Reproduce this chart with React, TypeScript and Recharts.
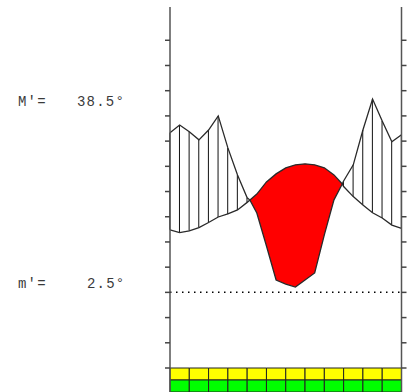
import React from 'react';
import {
    ComposedChart, Line, Area, Bar, XAxis, YAxis, ReferenceLine, ReferenceArea,
} from 'recharts';

// half-month steps across the year (0 = start of Jan, 24 = end of Dec),
// with the two points where the curves cross
const steps = [0, 1, 2, 3, 4, 5, 6, 7, 8, 8.29, 9, 10, 11, 12, 13, 14, 15, 16, 17, 17.86, 18, 19, 20, 21, 22, 23, 24];

// mean temperature, °C
const temperature = [12.4, 11.85, 12.2, 12.85, 13.85, 14.95, 15.55, 16.35, 17.85, 18.3, 19.5, 21.9, 23.5, 24.7, 25.3, 25.5, 25.3, 24.7, 23.3, 21.5, 21.0, 19.0, 17.35, 15.8, 14.75, 13.35, 12.7];

// precipitation, mm (drawn at 10 °C = 20 mm)
const precipitation = [63.3, 66.4, 63.7, 60.5, 64.4, 70.0, 57.3, 46.6, 37.5, 36.6, 31.5, 18.4, 4.9, 3.3, 2.1, 4.9, 7.7, 22.8, 36.7, 43.0, 44.2, 50.6, 64.4, 76.7, 68.0, 59.7, 62.5];

const months = ['J', 'F', 'M', 'A', 'M', 'J', 'J', 'A', 'S', 'O', 'N', 'D'];
const frostTop = ['#ffff00', '#ffff00', '#ffff00', '#ffff00', '#ffff00', '#ffff00', '#ffff00', '#ffff00', '#ffff00', '#ffff00', '#ffff00', '#ffff00'];
const frostBottom = ['#00ff00', '#00ff00', '#00ff00', '#00ff00', '#00ff00', '#00ff00', '#00ff00', '#00ff00', '#00ff00', '#00ff00', '#00ff00', '#00ff00'];

const tempTicks = [-15, -10, -5, 0, 5, 10, 15, 20, 25, 30, 35, 40, 45, 50];

const maxWarm = "38.5°";
const minCold = "2.5°";

const data = steps.map((k, i) => {
    const t = temperature[i];
    const p = precipitation[i] / 2;
    return {
        k,
        temp: t,
        rain: p,
        wet: p > t ? [t, p] : null,
        dry: p <= t ? [p, t] : null,
    };
});

const textStyle = { fontFamily: '"Liberation Mono", monospace', fontSize: 14, letterSpacing: 1.2, fill: '#3a3a3a' };

// tick marks only, no labels
const NoLabel = () => <g />;

export default function App() {
    return (
        <div style={{ position: 'absolute', left: 0, top: 0, width: 410, height: 392, background: '#fff' }}>
            <ComposedChart width={410} height={392} data={data} margin={{ top: 7, right: 0, bottom: 0, left: 160 }}>
                <XAxis dataKey="k" type="number" domain={[0, 24]} hide />
                <YAxis
                    yAxisId="l"
                    type="number"
                    domain={[-19.76, 56.6]}
                    ticks={tempTicks}
                    width={10}
                    tick={<NoLabel />}
                    tickSize={5}
                    axisLine={{ stroke: '#555', strokeWidth: 1.5 }}
                    tickLine={{ stroke: '#444', strokeWidth: 1.5 }}
                    allowDataOverflow
                />
                <YAxis
                    yAxisId="r"
                    orientation="right"
                    type="number"
                    domain={[-19.76, 56.6]}
                    ticks={tempTicks}
                    width={8.5}
                    tick={<NoLabel />}
                    tickSize={5}
                    axisLine={{ stroke: '#555', strokeWidth: 1.5 }}
                    tickLine={{ stroke: '#444', strokeWidth: 1.5 }}
                    allowDataOverflow
                />
                {months.map((m, i) => (
                    <ReferenceArea key={'t' + i} yAxisId="l" x1={i * 2} x2={i * 2 + 2} y1={-17.38} y2={-15}
                        fill={frostTop[i]} fillOpacity={1} stroke="#222" strokeWidth={1} />
                ))}
                {months.map((m, i) => (
                    <ReferenceArea key={'b' + i} yAxisId="l" x1={i * 2} x2={i * 2 + 2} y1={-19.76} y2={-17.38}
                        fill={frostBottom[i]} fillOpacity={1} stroke="#222" strokeWidth={1} />
                ))}
                <ReferenceLine yAxisId="l" y={0} stroke="#000" strokeWidth={1.5} strokeDasharray="1.5 4.5" />
                <Area yAxisId="l" type="linear" dataKey="dry" fill="#ff0000" fillOpacity={1} stroke="none" isAnimationActive={false} />
                <Bar yAxisId="l" dataKey="wet" barSize={1} fill="#111" isAnimationActive={false} />
                <Line yAxisId="l" type="linear" dataKey="rain" stroke="#2a2a2a" strokeWidth={1.3} dot={false} isAnimationActive={false} />
                <Line yAxisId="l" type="linear" dataKey="temp" stroke="#2a2a2a" strokeWidth={1.3} dot={false} isAnimationActive={false} />
            </ComposedChart>
            <svg width={410} height={392} style={{ position: 'absolute', left: 0, top: 0, pointerEvents: 'none' }}>
                <text x={18} y={106} style={textStyle}>M'=</text>
                <text x={77} y={106} style={textStyle}>{maxWarm}</text>
                <text x={18} y={288} style={textStyle}>m'=</text>
                <text x={87} y={288} style={textStyle}>{minCold}</text>
            </svg>
        </div>
    );
}
